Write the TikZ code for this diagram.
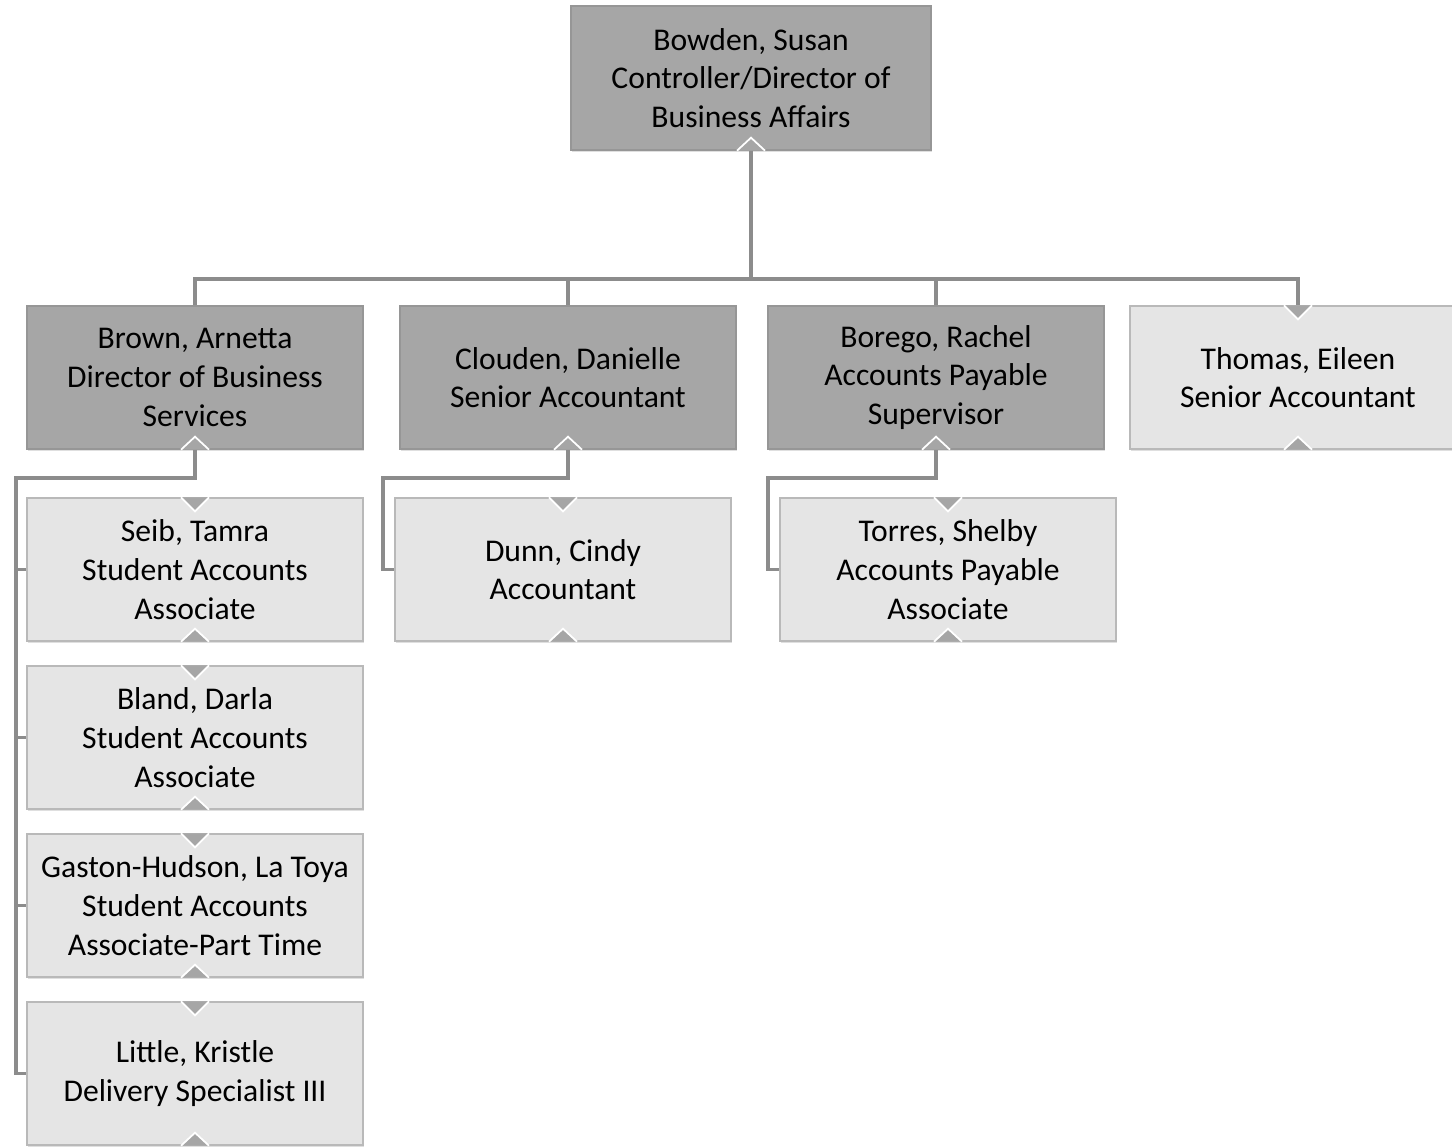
\documentclass[tikz,border=0pt]{standalone}
\usepackage{fontspec}
\setmainfont{Carlito}
\usepackage{tikz}
\usetikzlibrary{shapes, arrows.meta, positioning, calc, shadows}
\definecolor{boxdark}{RGB}{166, 166, 166}
\definecolor{boxdarkline}{RGB}{150, 150, 150}
\definecolor{boxlight}{RGB}{229, 229, 229}
\definecolor{boxlightline}{RGB}{185, 185, 185}
\definecolor{linkgray}{RGB}{140, 140, 140}
\tikzset{
  orgbox/.style={rectangle, draw, line width=0.8pt, align=center, inner sep=2pt,
    minimum width=6.72cm, minimum height=2.86cm,
    font=\fontsize{18}{22}\selectfont,
    drop shadow={shadow xshift=0.6pt, shadow yshift=-1.2pt, opacity=0.25}},
  darkbox/.style={orgbox, fill=boxdark, draw=boxdarkline},
  lightbox/.style={orgbox, fill=boxlight, draw=boxlightline},
  orgline/.style={draw=linkgray, line width=2.2pt},
  notchfill/.style={fill=boxdark},
  notchedge/.style={draw=white, line width=1pt}
}

\begin{document}
\begin{tikzpicture}[x=0.02cm, y=-0.02cm]
    \useasboundingbox (0, 0) rectangle (1452, 1146);

    % --- TOP ---
    \node[darkbox, minimum width=7.2cm, minimum height=2.88cm] (boss) at (751, 78) {Bowden, Susan\\Controller/Director of\\Business Affairs};

    % --- SECOND ROW ---
    \node[darkbox] (brown) at (195, 377.5) {Brown, Arnetta\\Director of Business\\Services};
    \node[darkbox] (clouden) at (568, 377.5) {Clouden, Danielle\\Senior Accountant};
    \node[darkbox] (borego) at (936, 377.5) {Borego, Rachel\\Accounts Payable\\Supervisor};
    \node[lightbox] (thomas) at (1298, 377.5) {Thomas, Eileen\\Senior Accountant};

    % --- STAFF ---
    \node[lightbox] (seib) at (195, 569.5) {Seib, Tamra\\Student Accounts\\Associate};
    \node[lightbox] (bland) at (195, 737.5) {Bland, Darla\\Student Accounts\\Associate};
    \node[lightbox] (gaston) at (195, 905.5) {Gaston-Hudson, La Toya\\Student Accounts\\Associate-Part Time};
    \node[lightbox] (little) at (195, 1073.5) {Little, Kristle\\Delivery Specialist III};
    \node[lightbox] (dunn) at (563, 569.5) {Dunn, Cindy\\Accountant};
    \node[lightbox] (torres) at (948, 569.5) {Torres, Shelby\\Accounts Payable\\Associate};

    % --- CONNECTORS ---
    \coordinate (bus) at (751, 279);
    \foreach \n in {brown, clouden, borego, thomas}
        \draw[orgline] (boss.south) -- (bus) -| (\n.north);

    \coordinate (brownrail) at (16, 478);
    \foreach \n in {seib, bland, gaston, little}
        \draw[orgline] (brown.south) |- (brownrail) |- (\n.west);

    \coordinate (cloudenrail) at (383, 478);
    \draw[orgline] (clouden.south) |- (cloudenrail) |- (dunn.west);

    \coordinate (boregorail) at (768, 478);
    \draw[orgline] (borego.south) |- (boregorail) |- (torres.west);

    % --- NOTCHES ---
    \foreach \n in {thomas, seib, bland, gaston, little, dunn, torres} {
        \fill[notchfill] ($(\n.north)+(-13, 0)$) -- ($(\n.north)+(13, 0)$) -- ($(\n.north)+(0, 13)$) -- cycle;
        \draw[notchedge] ($(\n.north)+(-14, 0)$) -- ($(\n.north)+(0, 14)$) -- ($(\n.north)+(14, 0)$);
    }
    \foreach \n in {boss, brown, clouden, borego, thomas, seib, bland, gaston, little, dunn, torres} {
        \fill[notchfill] ($(\n.south)+(-13, 0)$) -- ($(\n.south)+(13, 0)$) -- ($(\n.south)+(0, -12)$) -- cycle;
        \draw[notchedge] ($(\n.south)+(-14, 0)$) -- ($(\n.south)+(0, -13)$) -- ($(\n.south)+(14, 0)$);
    }
\end{tikzpicture}
\end{document}
